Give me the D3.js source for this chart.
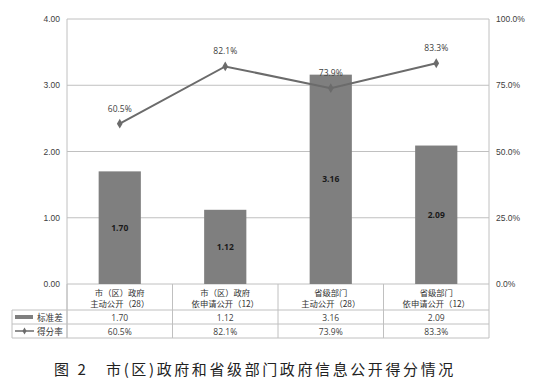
<!DOCTYPE html>
<html><head><meta charset="utf-8">
<script src="https://cdn.jsdelivr.net/npm/d3@7"></script>
<style>
body{margin:0;background:#fff;}
svg{display:block;font-family:"Open Sans","Liberation Sans",sans-serif;}
</style></head>
<body><svg id="c" width="535" height="387"></svg>
<script>
const categories = [["市（区）政府","主动公开（28）"],["市（区）政府","依申请公开（12）"],["省级部门","主动公开（28）"],["省级部门","依申请公开（12）"]];
const stdValues = [1.70, 1.12, 3.16, 2.09];
const rateValues = [0.605, 0.821, 0.739, 0.833];
const leftTicks = [0, 1, 2, 3, 4];
const rightTicks = [0, 0.25, 0.5, 0.75, 1];
const seriesNames = ["标准差", "得分率"];
const caption = "图 2　市(区)政府和省级部门政府信息公开得分情况";

const svg = d3.select("#c");
const L = 67, R = 489, T = 19, B = 284;
const x = d3.scaleBand().domain(d3.range(categories.length)).range([L, R]).paddingInner(0.6).paddingOuter(0.3);
const xb = d3.scaleBand().domain(d3.range(categories.length)).range([L, R]);
const y = d3.scaleLinear().domain([0, 4]).range([B, T]);
const y2 = d3.scaleLinear().domain([0, 1]).range([B, T]);
const grid = "#c0c0c0", txt = "#404040";

// gridlines
svg.append("g").selectAll("line").data(leftTicks).join("line")
  .attr("x1", L).attr("x2", R).attr("y1", d => y(d)).attr("y2", d => y(d))
  .attr("stroke", grid).attr("stroke-width", 1);
svg.append("line").attr("x1", L).attr("x2", L).attr("y1", T).attr("y2", 338).attr("stroke", grid);
svg.append("line").attr("x1", R).attr("x2", R).attr("y1", T).attr("y2", B).attr("stroke", grid);

// left axis
const la = svg.append("g").attr("transform", `translate(${L},0)`)
  .call(d3.axisLeft(y).tickValues(leftTicks).tickFormat(d3.format(".2f")).tickSize(0).tickPadding(7));
la.select(".domain").remove();
la.selectAll("text").attr("font-size", 8.5).attr("fill", txt);
// right axis
const ra = svg.append("g").attr("transform", `translate(${R},0)`)
  .call(d3.axisRight(y2).tickValues(rightTicks).tickFormat(d3.format(".1%")).tickSize(0).tickPadding(7));
ra.select(".domain").remove();
ra.selectAll("text").attr("font-size", 8.5).attr("fill", txt);

// bars
svg.append("g").selectAll("rect").data(stdValues).join("rect")
  .attr("x", (d, i) => x(i)).attr("width", x.bandwidth())
  .attr("y", d => y(d)).attr("height", d => B - y(d)).attr("fill", "#7f7f7f");
svg.append("g").selectAll("text").data(stdValues).join("text")
  .attr("x", (d, i) => x(i) + x.bandwidth() / 2).attr("y", d => (y(d) + B) / 2 + 3)
  .attr("text-anchor", "middle").attr("font-size", 8.5).attr("font-weight", "bold").attr("fill", "#1a1a1a")
  .text(d => d.toFixed(2));

// line
const cx = i => xb(i) + xb.bandwidth() / 2;
svg.append("path").datum(rateValues)
  .attr("d", d3.line().x((d, i) => cx(i)).y(d => y2(d)))
  .attr("fill", "none").attr("stroke", "#6b6b6b").attr("stroke-width", 2);
const diamond = d3.symbol().type(d3.symbolDiamond).size(28);
svg.append("g").selectAll("path").data(rateValues).join("path")
  .attr("d", diamond).attr("transform", (d, i) => `translate(${cx(i)},${y2(d)})`).attr("fill", "#6b6b6b");
svg.append("g").selectAll("text").data(rateValues).join("text")
  .attr("x", (d, i) => cx(i)).attr("y", d => y2(d) - 12)
  .attr("text-anchor", "middle").attr("font-size", 8.5).attr("fill", txt)
  .text(d => d3.format(".1%")(d));

// table
const tL = 12, r1 = 310, r2 = 324, r3 = 338;
svg.append("g").selectAll("line").data(d3.range(categories.length + 1)).join("line")
  .attr("x1", i => i === categories.length ? R : xb(i)).attr("x2", i => i === categories.length ? R : xb(i))
  .attr("y1", B).attr("y2", r3).attr("stroke", grid);
svg.append("line").attr("x1", tL).attr("x2", tL).attr("y1", r1).attr("y2", r3).attr("stroke", grid);
[r1, r2, r3].forEach(yy => svg.append("line").attr("x1", tL).attr("x2", R).attr("y1", yy).attr("y2", yy).attr("stroke", grid));

// category labels (two lines)
categories.forEach((c, i) => {
  c.forEach((line, li) => {
    svg.append("text").attr("x", cx(i)).attr("y", 295.5 + li * 11).attr("text-anchor", "middle")
      .attr("font-family", "'Noto Sans CJK SC',sans-serif").attr("font-size", 8.3).attr("fill", "#333")
      .text(line);
  });
});
// table values
[stdValues.map(d => d.toFixed(2)), rateValues.map(d => d3.format(".1%")(d))].forEach((row, ri) => {
  svg.append("g").selectAll("text").data(row).join("text")
    .attr("x", (d, i) => cx(i)).attr("y", (ri === 0 ? r1 : r2) + 10.5)
    .attr("text-anchor", "middle").attr("font-size", 8.5).attr("fill", txt).text(d => d);
});
// legend cells
svg.append("rect").attr("x", 15).attr("y", r1 + 5).attr("width", 18).attr("height", 4).attr("fill", "#7f7f7f");
svg.append("line").attr("x1", 15).attr("x2", 34).attr("y1", r2 + 7).attr("y2", r2 + 7).attr("stroke", "#6b6b6b").attr("stroke-width", 1.5);
svg.append("path").attr("d", d3.symbol().type(d3.symbolDiamond).size(14)).attr("transform", `translate(24.5,${r2 + 7})`).attr("fill", "#6b6b6b");
seriesNames.forEach((n, i) => {
  svg.append("text").attr("x", 37).attr("y", (i === 0 ? r1 : r2) + 10.5)
    .attr("font-family", "'Noto Sans CJK SC',sans-serif").attr("font-size", 8.6).attr("fill", "#333").text(n);
});

// caption
svg.append("text").attr("x", 54).attr("y", 375)
  .attr("font-family", "'Noto Sans CJK SC',sans-serif").attr("font-size", 15).attr("letter-spacing", 2.6)
  .attr("fill", "#222").text(caption);
</script></body></html>
